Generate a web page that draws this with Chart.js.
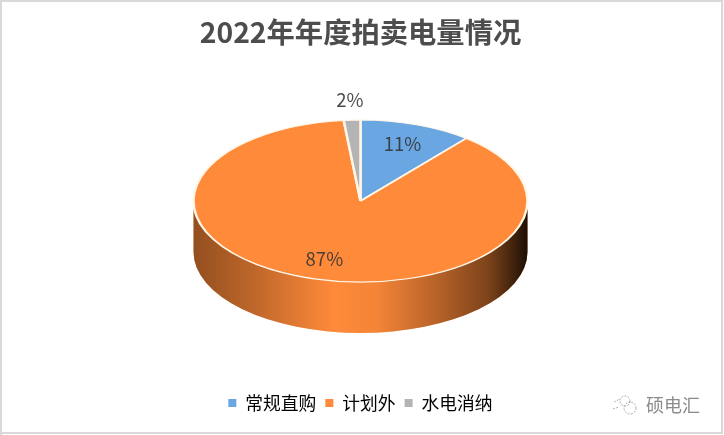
<!DOCTYPE html>
<html>
<head>
<meta charset="utf-8">
<style>
  html, body { margin: 0; padding: 0; background: #fff; overflow: hidden; }
  #wrap { position: relative; width: 724px; height: 435px; }
  #chart { position: absolute; left: 0; top: 0; }
  #mark { position: absolute; left: 610px; top: 393px; height: 22px; color: #8a8a8a;
          font: 18px "Noto Sans CJK SC"; line-height: 22px; white-space: nowrap; }
  #mark svg { position: absolute; left: 0; top: 1px; }
  #mark span { position: absolute; left: 36px; top: 0; letter-spacing: 0; }
</style>
</head>
<body>
<div id="wrap">
  <canvas id="chart" width="724" height="435"></canvas>
  <div id="mark">
    <svg width="32" height="22" fill="none" stroke="#9a9a9a" stroke-width="0.8" stroke-dasharray="2 1.2">
      <path d="M4 8 L10 5 M3 15 L9 13"/>
      <circle cx="15" cy="7" r="5"/>
      <circle cx="20" cy="14" r="6"/>
    </svg>
    <span>硕电汇</span>
  </div>
</div>
<script src="https://cdn.jsdelivr.net/npm/chart.js@4/dist/chart.umd.js"></script>
<script>
var titleText = "2022年年度拍卖电量情况";
var categories = ["常规直购", "计划外", "水电消纳"];
var shares = [10.9, 87.4, 1.6];
var sliceColors = ["#6aa6e2", "#ff8a3a", "#b4b4b4"];

var FONT = '"Noto Sans CJK SC", "Noto Sans", sans-serif';
var PIE_CY = 201;     // where the pie centre ends up on the page
var SQUASH = 0.485;   // tilt of the disc
var DEPTH = 51;       // height of the side wall

// dark overlay across the wall, left to right
var wallShade = [
    [0, "rgba(40,20,5,0.5)"],
    [0.18, "rgba(40,20,5,0.3)"],
    [0.42, "rgba(40,20,5,0)"],
    [0.55, "rgba(40,20,5,0.05)"],
    [0.72, "rgba(40,20,5,0.32)"],
    [0.88, "rgba(40,20,5,0.6)"],
    [1, "rgba(15,8,2,0.95)"]
];

// side wall: the part of each slice that faces the viewer
var wallPlugin = {
    id: "wall",
    beforeDatasetsDraw: function (chart) {
        var ctx = chart.ctx;
        var arcs = chart.getDatasetMeta(0).data;
        var R = arcs[0].outerRadius;
        var cx = arcs[0].x;
        var shade = ctx.createLinearGradient(cx - R, 0, cx + R, 0);
        wallShade.forEach(function (s) { shade.addColorStop(s[0], s[1]); });

        arcs.forEach(function (arc, i) {
            var from = Math.max(arc.startAngle, 0);
            var to = Math.min(arc.endAngle, Math.PI);
            if (to <= from) return;
            ctx.beginPath();
            ctx.ellipse(cx, PIE_CY, R, R * SQUASH, 0, from, to);
            ctx.ellipse(cx, PIE_CY + DEPTH, R, R * SQUASH, 0, to, from, true);
            ctx.closePath();
            ctx.fillStyle = sliceColors[i];
            ctx.fill();
            ctx.fillStyle = shade;
            ctx.fill();
        });
    },
    beforeDatasetDraw: function (chart) {
        var ctx = chart.ctx;
        var arc = chart.getDatasetMeta(0).data[0];
        ctx.save();
        ctx.translate(arc.x, PIE_CY);
        ctx.scale(1, SQUASH);
        ctx.translate(-arc.x, -arc.y);
    },
    afterDatasetDraw: function (chart) {
        chart.ctx.restore();
    },
    afterDatasetsDraw: function (chart) {
        var ctx = chart.ctx;
        var total = shares.reduce(function (a, b) { return a + b; }, 0);
        ctx.save();
        ctx.font = "18.5px " + FONT;
        ctx.textAlign = "center";
        ctx.textBaseline = "middle";
        ctx.fillStyle = "rgba(50,50,50,0.88)";
        chart.getDatasetMeta(0).data.forEach(function (arc, i) {
            var pct = shares[i] / total * 100;
            var mid = (arc.startAngle + arc.endAngle) / 2;
            var r = arc.outerRadius * (pct < 5 ? 1.25 : 0.75);
            ctx.fillText(pct.toFixed(0) + "%", arc.x + Math.cos(mid) * r, PIE_CY + Math.sin(mid) * r * SQUASH);
        });
        ctx.restore();
    },
    afterDraw: function (chart) {
        // picture frame
        var ctx = chart.ctx;
        ctx.save();
        ctx.strokeStyle = "#d9d9d9";
        ctx.lineWidth = 2;
        ctx.beginPath();
        ctx.moveTo(1, 435);
        ctx.lineTo(1, 1);
        ctx.lineTo(722, 1);
        ctx.lineTo(722, 433);
        ctx.lineTo(0, 433);
        ctx.stroke();
        ctx.restore();
    }
};

new Chart(document.getElementById("chart"), {
    type: "pie",
    data: {
        labels: categories,
        datasets: [{
            data: shares,
            backgroundColor: sliceColors,
            borderColor: "#fff6e8",
            borderWidth: 2.5,
            radius: 167
        }]
    },
    options: {
        responsive: false,
        animation: false,
        layout: { padding: { right: 3, bottom: 13 } },
        plugins: {
            tooltip: { enabled: false },
            title: {
                display: true,
                text: titleText,
                color: "#4d4d4d",
                font: { family: FONT, size: 28.3, weight: "bold" },
                padding: { top: 15, bottom: 20 }
            },
            legend: {
                position: "bottom",
                labels: {
                    color: "#595959",
                    font: { family: FONT, size: 17.8 },
                    boxWidth: 8,
                    boxHeight: 8,
                    padding: 9,
                    generateLabels: function () {
                        return categories.map(function (name, i) {
                            return { text: name, fillStyle: sliceColors[i], strokeStyle: sliceColors[i], lineWidth: 0, index: i };
                        });
                    }
                }
            }
        }
    },
    plugins: [wallPlugin]
});
</script>
</body>
</html>
